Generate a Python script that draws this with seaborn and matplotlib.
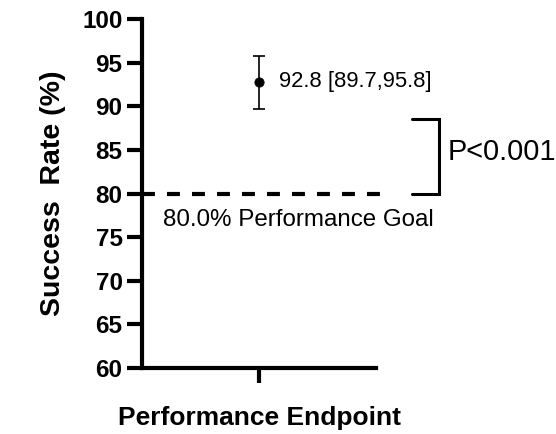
import matplotlib
matplotlib.use('Agg')
import matplotlib.pyplot as plt
import seaborn as sns
import pandas as pd

# data
endpoint = ['Performance Endpoint']
success_rate = [92.8]
ci_low = [89.7]
ci_high = [95.8]
goal = 80.0
bracket_top = 88.5
p_label = 'P<0.001'
y_ticks = [60, 65, 70, 75, 80, 85, 90, 95, 100]

df = pd.DataFrame({'x': [0], 'rate': success_rate, 'lo': ci_low, 'hi': ci_high})

sns.set_style('ticks')
plt.rcParams['font.family'] = ['Liberation Sans', 'DejaVu Sans']
plt.rcParams['text.color'] = 'black'
plt.rcParams['axes.labelcolor'] = 'black'

fig = plt.figure(figsize=(5.56, 4.34), dpi=100)
ax = fig.add_axes([0.2554, 0.152, 0.4209, 0.804])

# point estimate + 95% CI
ax.errorbar(df['x'], df['rate'], yerr=[df['rate'] - df['lo'], df['hi'] - df['rate']],
            fmt='none', ecolor='black', elinewidth=1.2, capsize=4.2, capthick=1.2, zorder=3)
sns.scatterplot(data=df, x='x', y='rate', color='black', s=45, edgecolor='black', ax=ax, zorder=4)
ax.text(0.085, success_rate[0], f'{success_rate[0]} [{ci_low[0]},{ci_high[0]}]',
        fontsize=15.8, va='center', ha='left')

# performance goal line
sns.lineplot(x=[-0.5, 0.547], y=[goal, goal], color='black', lw=3, ax=ax, clip_on=False)
ax.lines[-1].set_dashes((3.1, 2.9))
ax.text(-0.41, 77.0, f'{goal:.1f}% Performance Goal', fontsize=17.4, va='center', ha='left')

# significance bracket
ax.plot([0.654, 0.77, 0.77, 0.654], [bracket_top, bracket_top, goal, goal],
        color='black', lw=2.2, clip_on=False, solid_joinstyle='miter')
ax.text(0.805, (bracket_top + goal) / 2 + 0.5, p_label, fontsize=20.8, va='center', ha='left')

ax.set_xlim(-0.5, 0.5)
ax.set_ylim(60, 100)
ax.set_xticks([0])
ax.set_xticklabels([''])
ax.set_yticks(y_ticks)
for lab in ax.get_yticklabels():
    lab.set_fontweight('bold')
ax.tick_params(axis='both', width=3, length=11, labelsize=17.5, colors='black', pad=3)
for s in ['left', 'bottom']:
    ax.spines[s].set_linewidth(3)
    ax.spines[s].set_color('black')
sns.despine(ax=ax)

ax.set_ylabel('Success  Rate (%)', fontsize=20.5, fontweight='bold', labelpad=12)
ax.set_xlabel('Performance Endpoint', fontsize=19, fontweight='bold', labelpad=13)

fig.savefig('out.png', dpi=100)
